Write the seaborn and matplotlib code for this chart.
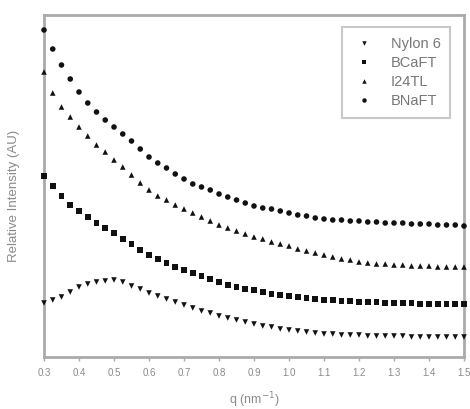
import numpy as np
import pandas as pd
import matplotlib
matplotlib.use("Agg")
import matplotlib.pyplot as plt
import seaborn as sns

q = [round(0.3 + 0.025 * i, 3) for i in range(49)]

bnaft = [327, 308, 292, 278, 265, 254, 245, 237, 230, 223, 216, 208, 200, 194, 189, 183,
         178, 173, 170, 167, 163, 160, 157, 154, 151, 149, 148, 146, 144, 142, 141, 139,
         138, 137, 137, 136, 136, 135, 135, 134, 134, 134, 133, 133, 133, 132, 132, 132, 131]
i24tl = [285, 264, 250, 240, 230, 221, 212, 205, 197, 190, 182, 174, 167, 161, 157, 152,
         148, 144, 140, 136, 132, 129, 126, 123, 120, 118, 115, 113, 111, 108, 106, 104,
         102, 100, 98, 97, 95, 94, 93, 93, 92, 92, 91, 91, 91, 90, 90, 90, 90]
bcaft = [181, 171, 161, 152, 146, 140, 134, 129, 124, 118, 113, 107, 102, 98, 94, 90,
         87, 84, 81, 78, 75, 72, 70, 68, 67, 65, 63, 62, 61, 60, 59, 58,
         57, 57, 56, 56, 55, 55, 55, 54, 54, 54, 54, 53, 53, 53, 53, 53, 53]
nylon6 = [54, 57, 60, 65, 70, 73, 75, 76, 77, 75, 71, 68, 64, 61, 58, 55,
          52, 49, 46, 44, 41, 39, 37, 35, 33, 31, 30, 28, 27, 26, 25, 24,
          23, 23, 22, 22, 22, 21, 21, 21, 21, 21, 20, 20, 20, 20, 20, 20, 20]

series_names = ["Nylon 6", "BCaFT", "I24TL", "BNaFT"]
series_vals = [nylon6, bcaft, i24tl, bnaft]
x_ticks = [0.3, 0.4, 0.5, 0.6, 0.7, 0.8, 0.9, 1.0, 1.1, 1.2, 1.3, 1.4, 1.5]

rows = []
for name, vals in zip(series_names, series_vals):
    for qq, v in zip(q, vals):
        rows.append({"q": qq, "I": v, "sample": name})
df = pd.DataFrame(rows)

sns.set_style("white")
plt.rcParams['font.family'] = ['Liberation Sans', 'DejaVu Sans']

fig = plt.figure(figsize=(4.70, 4.09), dpi=100)
ax = fig.add_axes([44/470, 52/409, 420/470, 342/409])

markers = {"Nylon 6": "v", "BCaFT": "s", "I24TL": "^", "BNaFT": "o"}
palette = {n: "#111111" for n in series_names}
sns.scatterplot(data=df, x="q", y="I", hue="sample", style="sample",
                markers=markers, palette=palette, hue_order=series_names,
                style_order=series_names, s=16, linewidth=0, ax=ax,
                clip_on=False, zorder=5)

ax.set_xlim(0.3, 1.5)
ax.set_ylim(0, 342)
ax.set_xticks(x_ticks)
ax.set_xticklabels([f"{t:.1f}" for t in x_ticks])
ax.set_yticks([])
ax.set_xlabel("q (nm$^{-1}$)", fontsize=9, color="#8a8a8a", labelpad=9)
ax.set_ylabel("Relative Intensity (AU)", fontsize=9.5, color="#8a8a8a", labelpad=12)
ax.yaxis.set_label_coords(-0.057, 0.47)
ax.tick_params(axis="x", direction="out", length=3, width=1, colors="#aaaaaa",
               labelsize=7, labelcolor="#8a8a8a", pad=5, bottom=True)
for sp in ax.spines.values():
    sp.set_color("#aaaaaa")
    sp.set_linewidth(2)
    sp.set_zorder(1)

leg = ax.legend(loc="upper right", frameon=True, fontsize=10.5, markerscale=0.8,
                handletextpad=1.0, handlelength=1.7, borderpad=0.65, labelspacing=0.35,
                bbox_to_anchor=(0.984, 0.985))
leg.get_frame().set_edgecolor("#bbbbbb")
leg.get_frame().set_linewidth(1.5)
leg.get_frame().set_boxstyle("square", pad=0)
for t in leg.get_texts():
    t.set_color("#777777")

fig.savefig("out.png", dpi=100)
